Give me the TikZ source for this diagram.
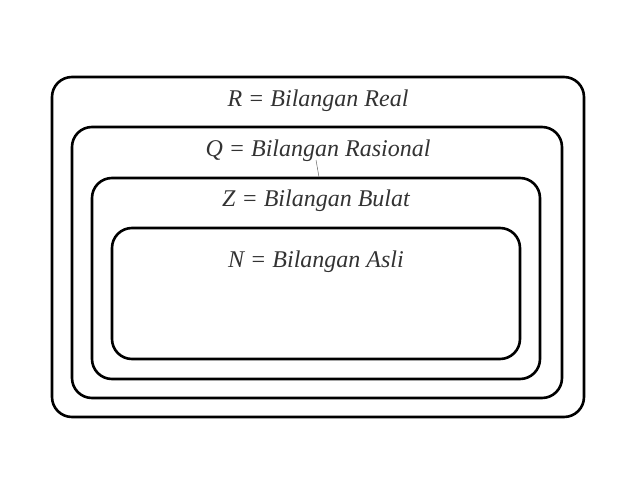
\documentclass[tikz,border=0pt]{standalone}
\usepackage{fontspec}
\setmainfont{Liberation Serif}
\begin{document}
\begin{tikzpicture}[x=1pt,y=-1pt,
  setbox/.style={draw=black,line width=2.6pt,rounded corners=20pt},
  lbl/.style={font=\fontsize{24}{27}\selectfont\itshape,text=black!80,anchor=base,inner sep=0pt}]
\useasboundingbox (0,0) rectangle (638,479);
\draw[setbox] (52,77) rectangle (584,417);
\draw[setbox] (72,127) rectangle (562,398);
\draw[setbox] (92,178) rectangle (540,379);
\draw[setbox] (112,228) rectangle (520,359);
\node[lbl] (r) at (318,106) {R = Bilangan Real};
\node[lbl] (q) at (318,156) {Q = Bilangan Rasional};
\node[lbl] (z) at (316,206) {Z = Bilangan Bulat};
\node[lbl] (n) at (316,267) {N = Bilangan Asli};
\coordinate (qa) at (316,160);
\coordinate (qb) at (319,177);
\draw[black!60,line width=0.5pt] (qa) -- (qb);
\end{tikzpicture}
\end{document}
